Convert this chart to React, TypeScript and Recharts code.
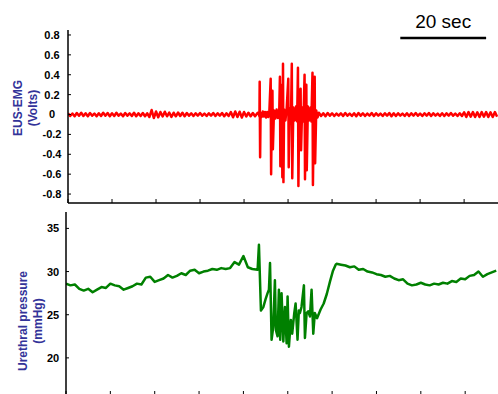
import React from "react";
import { LineChart, Line, XAxis, YAxis, ReferenceLine } from "recharts";

const FONT = 'Arial, "Liberation Sans", sans-serif';
const TITLE_COLOR = "#333399";

// axis ticks
const timeTicks = [0, 10, 20, 30, 40, 50, 60, 70, 80, 90];
const emgTicks = [-0.8, -0.6, -0.4, -0.2, 0, 0.2, 0.4, 0.6, 0.8];
const pressureTicks = [20, 25, 30, 35];

// EUS-EMG (V), sampled every 0.5 s from 0 s
const emgPre = [
  0.012, -0.015, 0.01, -0.018, 0.015, -0.012, 0.018, -0.015, 0.012, -0.018,
  0.015, -0.012, 0.01, -0.018, 0.012, -0.015, 0.018, -0.012, 0.015, -0.018,
  0.012, -0.015, 0.018, -0.012, 0.01, -0.018, 0.015, -0.012, 0.012, -0.015,
  0.018, -0.018, 0.012, -0.015, 0.015, -0.018, 0.012, -0.025, 0.045, -0.035,
  0.03, -0.028, 0.025, -0.02, 0.028, -0.018, 0.02, -0.025, 0.018, -0.018,
  0.02, -0.015, 0.018, -0.018, 0.015, -0.012, 0.012, -0.015, 0.012, -0.012,
  0.015, -0.012, 0.01, -0.015, 0.012, -0.012, 0.015, -0.015, 0.012, -0.012,
  0.015, -0.018, 0.012, -0.015, 0.025, -0.028, 0.03, -0.025, 0.028, -0.03,
  0.025, -0.02, 0.018, -0.018, 0.015, -0.018, 0.012,
];

// bursting period, [time s, volts]
const emgBurst: [number, number][] = [
  [43.25, 0.02], [43.5, -0.02], [43.55, 0.33], [43.65, -0.43], [43.75, 0.015],
  [44.0, -0.025], [44.25, 0.03], [44.5, -0.02], [44.75, 0.025], [45.0, -0.03],
  [45.25, 0.025], [45.5, -0.025], [45.75, 0.03], [46.05, 0.36], [46.15, -0.6],
  [46.3, 0.03], [46.45, 0.24], [46.55, -0.35], [46.8, 0.04], [47.1, -0.04],
  [47.4, 0.05], [47.7, -0.035], [48.0, 0.04], [48.15, 0.38], [48.25, -0.52],
  [48.4, 0.06], [48.6, 0.3], [48.7, -0.63], [48.85, 0.51], [48.95, -0.68],
  [49.1, 0.05], [49.4, -0.06], [49.7, 0.07], [50.05, 0.36], [50.15, -0.53],
  [50.4, 0.06], [50.65, -0.07], [50.85, 0.51], [50.95, -0.64], [51.2, 0.07],
  [51.5, -0.06], [51.8, 0.08], [52.05, -0.07], [52.25, 0.47], [52.35, -0.72],
  [52.55, 0.1], [52.85, 0.26], [52.95, -0.36], [53.2, 0.07], [53.5, -0.07],
  [53.75, 0.4], [53.85, -0.65], [54.0, 0.08], [54.15, 0.3], [54.25, -0.56],
  [54.5, 0.08], [54.8, -0.06], [55.1, 0.07], [55.3, -0.07], [55.55, 0.42],
  [55.65, -0.71], [55.85, 0.05], [56.05, 0.38], [56.15, -0.49], [56.4, 0.04],
  [56.7, -0.03],
];

// every 0.5 s from 57 s
const emgPost = [
  0.018, -0.015, 0.012, -0.018, 0.015, -0.012, 0.012, -0.015, 0.01, -0.012,
  0.012, -0.015, 0.015, -0.012, 0.01, -0.015, 0.012, -0.018, 0.015, -0.012,
  0.012, -0.015, 0.01, -0.012, 0.015, -0.015, 0.012, -0.012, 0.01, -0.015,
  0.012, -0.012, 0.015, -0.018, 0.012, -0.015, 0.012, -0.012, 0.01, -0.015,
  0.012, -0.015, 0.012, -0.012, 0.015, -0.012, 0.01, -0.015, 0.012, -0.012,
  0.015, -0.015, 0.012, -0.012, 0.01, -0.015, 0.012, -0.015, 0.012, -0.012,
  0.015, -0.012, 0.01, -0.015, 0.012, -0.015, 0.022, -0.025, 0.025, -0.022,
  0.025, -0.025, 0.022, -0.025, 0.025, -0.022, 0.025, -0.025, 0.022, -0.025,
  0.025, -0.022,
];

// urethral pressure (mmHg), every 1 s from 0 s
const pressurePre = [
  28.6, 28.4, 28.5, 28.0, 27.8, 28.0, 27.6, 27.9, 28.2, 28.1,
  28.6, 28.4, 28.3, 27.9, 28.1, 28.3, 28.6, 28.5, 29.3, 29.4,
  28.8, 29.0, 29.2, 29.6, 29.3, 29.5, 29.8, 29.6, 30.1, 30.2,
  29.8, 30.0, 30.1, 30.3, 30.2, 30.4, 30.3, 30.4, 31.1, 30.8,
  31.8, 30.5, 30.3,
];

const pressureBurst: [number, number][] = [
  [43.2, 30.2], [43.5, 33.1], [43.95, 25.5], [44.5, 25.9], [45.0, 26.8],
  [45.45, 27.5], [45.75, 27.9], [46.0, 31.0], [46.35, 22.1], [46.73, 23.6],
  [47.1, 29.0], [47.33, 23.2], [47.7, 22.5], [48.0, 27.9], [48.3, 22.1],
  [48.6, 27.5], [49.0, 21.9], [49.36, 25.9], [49.74, 21.7], [49.96, 27.1],
  [50.26, 21.3], [50.7, 24.4], [51.0, 22.8], [51.47, 25.2], [51.77, 26.3],
  [52.2, 22.1], [52.5, 25.5], [52.74, 25.2], [53.1, 25.9], [53.64, 28.4],
  [53.87, 22.3], [54.25, 25.2], [54.6, 25.4], [55.0, 24.8], [55.37, 27.9],
  [55.75, 22.8], [56.1, 25.2], [56.6, 24.6], [57.4, 25.6], [58.1, 26.3],
  [58.8, 27.4], [59.5, 28.8], [60.2, 30.1], [60.8, 30.8],
];

// every 1 s from 61 s
const pressurePost = [
  30.9, 30.8, 30.7, 30.5, 30.6, 30.2, 30.3, 30.0, 29.9, 29.7,
  29.6, 29.4, 29.5, 29.2, 29.0, 29.1, 28.6, 28.4, 28.5, 28.7,
  28.5, 28.4, 28.6, 28.5, 28.7, 28.6, 28.9, 28.8, 29.2, 29.1,
  29.5, 29.6, 30.0, 29.4, 29.7, 29.9, 30.1,
];

const emgData = [
  ...emgPre.map((v, i) => ({ t: i * 0.5, v })),
  ...emgBurst.map(([t, v]) => ({ t, v })),
  ...emgPost.map((v, i) => ({ t: 57 + i * 0.5, v })),
];

const pressureData = [
  ...pressurePre.map((v, i) => ({ t: i, v })),
  ...pressureBurst.map(([t, v]) => ({ t, v })),
  ...pressurePost.map((v, i) => ({ t: 61 + i, v })),
];

function TimeTick({ x, y }: any) {
  return <line x1={x} x2={x} y1={y} y2={y - 4} stroke="#000" strokeWidth={1} />;
}

function ValueTick({ x, y, payload, labelOffset }: any) {
  return (
    <g>
      <line x1={x} x2={x + 3} y1={y} y2={y} stroke="#000" strokeWidth={1} />
      <text
        x={x - labelOffset}
        y={y}
        dy="0.36em"
        textAnchor="middle"
        fontSize={11}
        fontWeight="bold"
        fill="#000"
        fontFamily={FONT}
      >
        {payload.value}
      </text>
    </g>
  );
}

function AxisTitle({ lines, xs, cy }: { lines: string[]; xs: number[]; cy: number }) {
  return (
    <>
      {lines.map((l, i) => (
        <text
          key={l}
          x={xs[i]}
          y={cy}
          transform={`rotate(-90 ${xs[i]} ${cy})`}
          textAnchor="middle"
          dominantBaseline="central"
          fontSize={12}
          fontWeight="bold"
          fill={TITLE_COLOR}
          fontFamily={FONT}
        >
          {l}
        </text>
      ))}
    </>
  );
}

const axisLine = { stroke: "#000", strokeWidth: 1.5 };

export default function App() {
  return (
    <div
      style={{
        position: "fixed",
        left: 0,
        top: 0,
        width: 498,
        height: 394,
        overflow: "hidden",
        background: "#fff",
        fontFamily: FONT,
      }}
    >
      <div style={{ position: "absolute", left: 0, top: 0 }}>
        <LineChart width={498} height={210} data={emgData} margin={{ top: 30, right: 0, left: 0, bottom: 0 }}>
          <XAxis
            type="number"
            dataKey="t"
            domain={[0, 97.7]}
            ticks={timeTicks}
            interval={0}
            height={7}
            tickSize={0}
            tickMargin={0}
            tickLine={false}
            tick={<TimeTick />}
            axisLine={axisLine}
            allowDataOverflow
          />
          <YAxis
            type="number"
            domain={[-0.89, 0.85]}
            ticks={emgTicks}
            interval={0}
            width={68}
            tickSize={0}
            tickMargin={0}
            tickLine={false}
            tick={<ValueTick labelOffset={16} />}
            axisLine={axisLine}
            allowDataOverflow
          />
          <Line
            type="linear"
            dataKey="v"
            stroke="#ff0000"
            strokeWidth={2.5}
            strokeLinejoin="round"
            dot={false}
            activeDot={false}
            isAnimationActive={false}
          />
          <ReferenceLine
            segment={[
              { x: 75.5, y: 0.77 },
              { x: 95, y: 0.77 },
            ]}
            stroke="#000"
            strokeWidth={2.5}
            label={{ value: "20 sec", position: "top", offset: 10, fontSize: 19, fill: "#000", fontFamily: FONT }}
          />
        </LineChart>
      </div>

      <div style={{ position: "absolute", left: 0, top: 205 }}>
        <LineChart width={498} height={198} data={pressureData} margin={{ top: 7, right: 0, left: 0, bottom: 0 }}>
          <XAxis
            type="number"
            dataKey="t"
            domain={[0, 97.4]}
            ticks={timeTicks}
            interval={0}
            height={8}
            tickSize={0}
            tickMargin={0}
            tickLine={false}
            tick={<TimeTick />}
            axisLine={axisLine}
            allowDataOverflow
          />
          <YAxis
            type="number"
            domain={[15.7, 36.9]}
            ticks={pressureTicks}
            interval={0}
            width={66}
            tickSize={0}
            tickMargin={0}
            tickLine={false}
            tick={<ValueTick labelOffset={13} />}
            axisLine={axisLine}
            allowDataOverflow
          />
          <Line
            type="linear"
            dataKey="v"
            stroke="#008000"
            strokeWidth={2.5}
            strokeLinejoin="round"
            dot={false}
            activeDot={false}
            isAnimationActive={false}
          />
        </LineChart>
      </div>

      <svg
        width={498}
        height={394}
        style={{ position: "absolute", left: 0, top: 0, pointerEvents: "none" }}
      >
        <AxisTitle lines={["EUS-EMG", "(Volts)"]} xs={[18, 33]} cy={108} />
        <AxisTitle lines={["Urethral pressure", "(mmHg)"]} xs={[23, 37.5]} cy={321} />
      </svg>
    </div>
  );
}
